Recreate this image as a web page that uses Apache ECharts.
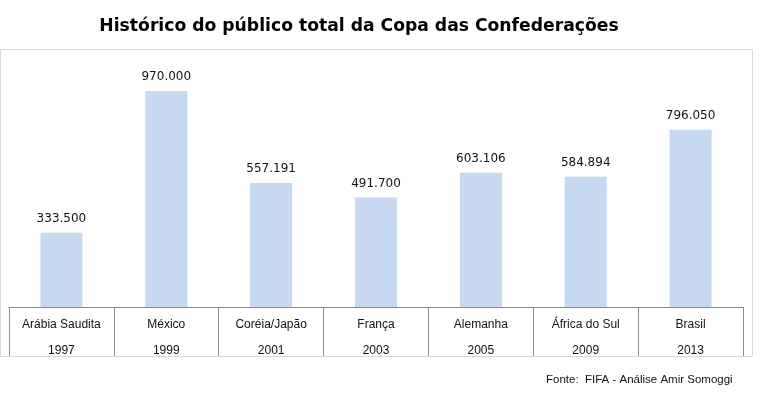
<!DOCTYPE html>
<html>
<head>
<meta charset="utf-8">
<script src="https://cdn.jsdelivr.net/npm/echarts@6/dist/echarts.min.js"></script>
<style>
  html, body { margin: 0; padding: 0; background: #fff; }
  #chart { width: 768px; height: 396px; }
</style>
</head>
<body>
<div id="chart"></div>
<script>
  var countries = ['Arábia Saudita', 'México', 'Coréia/Japão', 'França', 'Alemanha', 'África do Sul', 'Brasil'];
  var years = ['1997', '1999', '2001', '2003', '2005', '2009', '2013'];
  var publico = [333500, 970000, 557191, 491700, 603106, 584894, 796050];

  function fmt(v) {
    // separador de milhar com ponto
    return String(v).replace(/\B(?=(\d{3})+(?!\d))/g, '.');
  }

  var chart = echarts.init(document.getElementById('chart'));
  chart.setOption({
    animation: false,
    title: {
      text: 'Histórico do público total da Copa das Confederações',
      left: 354,
      top: 13,
      textAlign: 'center',
      textStyle: { fontFamily: 'DejaVu Sans', fontWeight: 'bold', fontSize: 17.2, color: '#000' }
    },
    graphic: [
      {
        type: 'rect',
        shape: { x: 0.5, y: 49.5, width: 752, height: 307 },
        style: { fill: 'none', stroke: '#d9d9d9', lineWidth: 1 },
        z: -1
      },
      {
        type: 'text',
        left: 546,
        top: 374,
        style: { text: 'Fonte:  FIFA - Análise Amir Somoggi', font: '11.5px "Liberation Sans"', fill: '#111' }
      }
    ],
    grid: { left: 9, right: 25, top: 84.3, bottom: 89 },
    xAxis: {
      type: 'category',
      data: countries,
      axisLine: { lineStyle: { color: '#8c8c8c', width: 1 } },
      axisTick: { show: true, interval: 0, length: 49, lineStyle: { color: '#8c8c8c' } },
      axisLabel: {
        interval: 0,
        margin: 5,
        color: '#111',
        fontFamily: 'Liberation Sans',
        fontSize: 12,
        lineHeight: 26,
        formatter: function (v, i) { return v + '\n' + years[i]; }
      }
    },
    yAxis: {
      type: 'value',
      min: 0,
      max: 1000000,
      show: false,
      splitLine: { show: false }
    },
    series: [{
      type: 'bar',
      data: publico,
      barWidth: 42,
      itemStyle: { color: '#c6d9f0' },
      label: {
        show: true,
        position: 'top',
        distance: 8,
        color: '#111',
        fontFamily: 'DejaVu Sans',
        fontSize: 12,
        formatter: function (p) { return fmt(p.value); }
      }
    }]
  });
</script>
</body>
</html>
